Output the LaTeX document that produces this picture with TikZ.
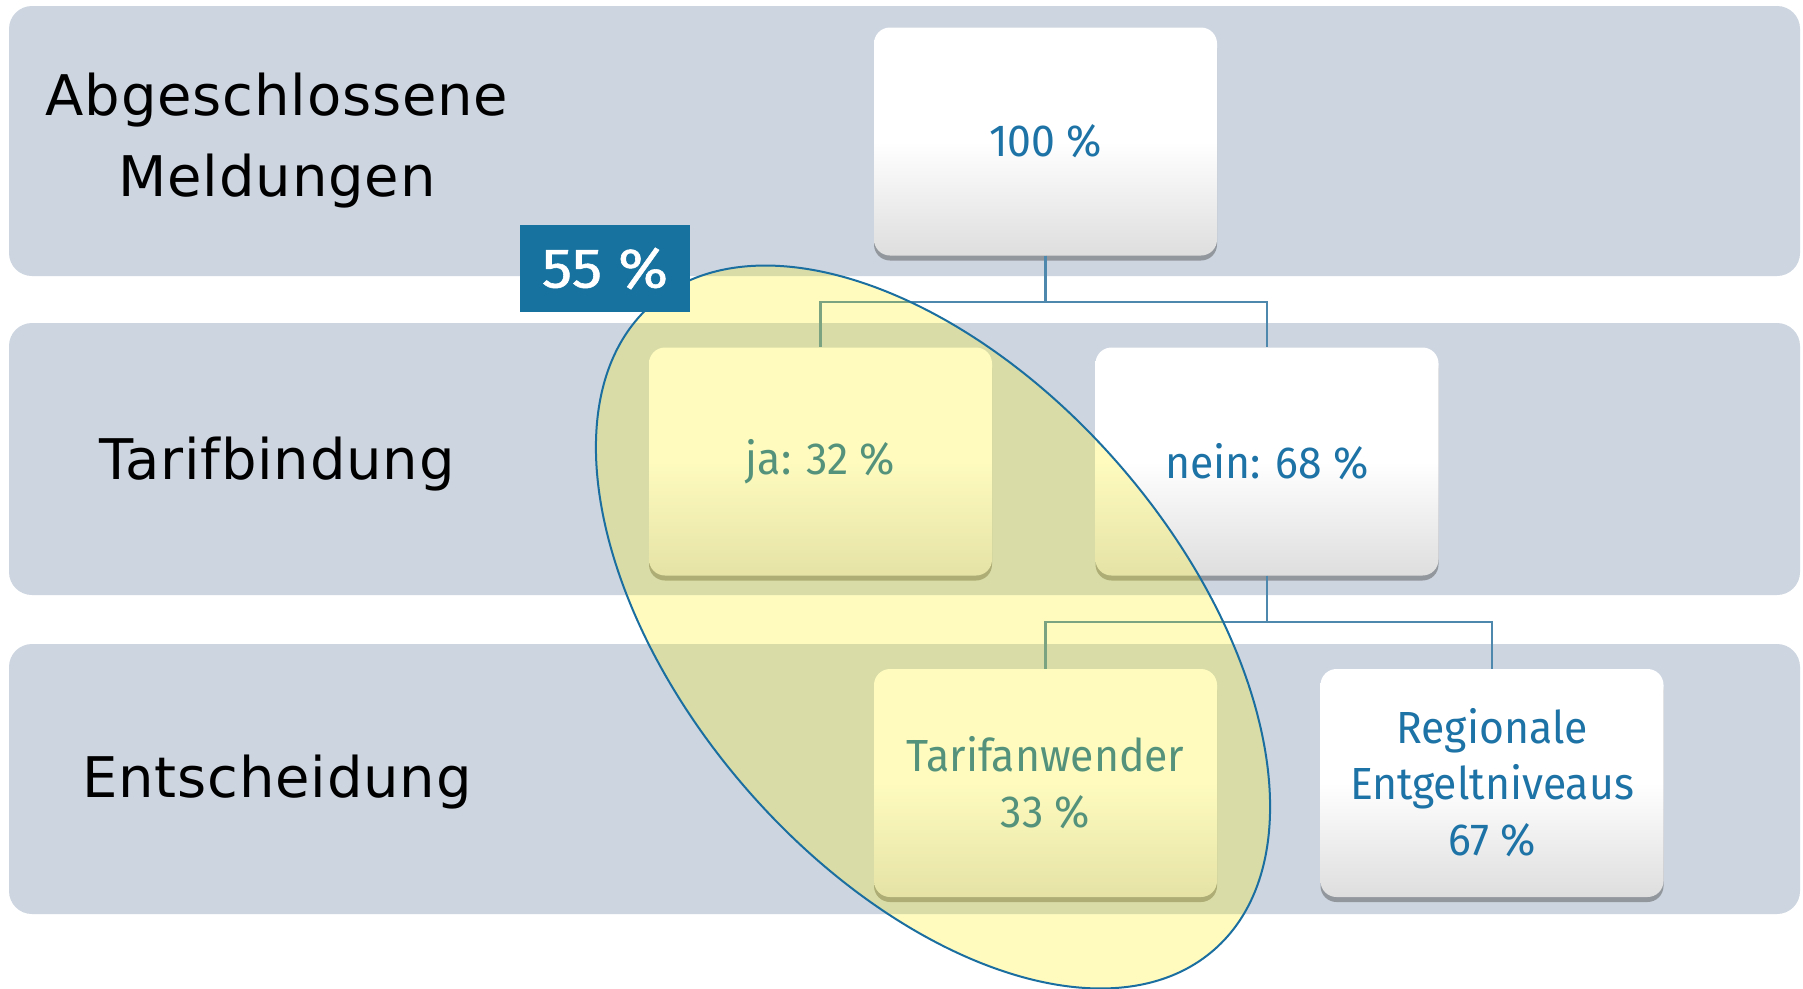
\documentclass[tikz,border=0pt]{standalone}
\usepackage{fontspec}
\setmainfont{DejaVu Sans}[LetterSpace=1.5]
\newfontfamily\boxfont[FakeStretch=0.95]{Fira Sans}
\newfontfamily\badgefont[FakeStretch=1.08, FakeBold=1]{Fira Sans}
\usetikzlibrary{shapes.geometric,shadows}
\definecolor{bandcol}{HTML}{CDD5E0}
\definecolor{conncol}{HTML}{4F88AD}
\definecolor{txtblue}{HTML}{1D72A6}
\definecolor{badgecol}{HTML}{17729F}
\definecolor{ellline}{HTML}{1A6FA0}
\begin{document}
\begin{tikzpicture}[x=1pt,y=-1pt,
  bandbox/.style={fill=bandcol, rounded corners=23pt},
  lbl/.style={font=\fontsize{56}{81}\selectfont, align=center, text=black},
  valbox/.style={rounded corners=16pt, minimum width=343pt, minimum height=228pt,
    top color=white, bottom color=black!13, middle color=white,
    drop shadow={shadow xshift=0pt, shadow yshift=-5pt, opacity=0.45, fill=black!70},
    text=txtblue, font=\boxfont\fontsize{45}{56}\selectfont, align=center},
  connline/.style={draw=conncol, line width=2.5pt},
]
\useasboundingbox (0,0) rectangle (1803,988);
\fill[white] (0,0) rectangle (1803,988);
% bands
\fill[bandbox] (9,6) rectangle (1800,276);
\fill[bandbox] (9,323) rectangle (1800,595);
\fill[bandbox] (9,644) rectangle (1800,914);
% labels
\node[lbl] (l1) at (277,141) {Abgeschlossene\\Meldungen};
\node[lbl] (l2) at (277,464) {Tarifbindung};
\node[lbl] (l3) at (277,782) {Entscheidung};
% boxes
\node[valbox] (n100) at (1045.5,141.5) {100 \%};
\node[valbox] (ja) at (820.5,461.5) {ja: 32 \%};
\node[valbox] (nein) at (1267,461.5) {nein: 68 \%};
\node[valbox] (tarif) at (1045.5,783) {Tarifanwender\\33 \%};
\node[valbox] (regio) at (1492,783) {Regionale\\Entgeltniveaus\\67 \%};
% connectors
\coordinate (j1) at (1045.5,302);
\coordinate (j2) at (1267,622);
\draw[connline] (n100.south) -- (j1) -| (ja.north);
\draw[connline] (j1) -| (nein.north);
\draw[connline] (nein.south) -- (j2) -| (tarif.north);
\draw[connline] (j2) -| (regio.north);
% ellipse
\node[ellipse, draw=ellline, line width=2pt, fill=yellow, fill opacity=0.25, draw opacity=1,
  inner sep=0pt, minimum width=856pt, minimum height=494pt, rotate=-49] (ell) at (933,627) {};
% badge
\node[fill=badgecol, text=white, minimum width=170pt, minimum height=87pt, inner sep=0pt,
  font=\badgefont\fontsize{56}{60}\selectfont] (badge) at (605,268.5) {55 \%};
\end{tikzpicture}
\end{document}
